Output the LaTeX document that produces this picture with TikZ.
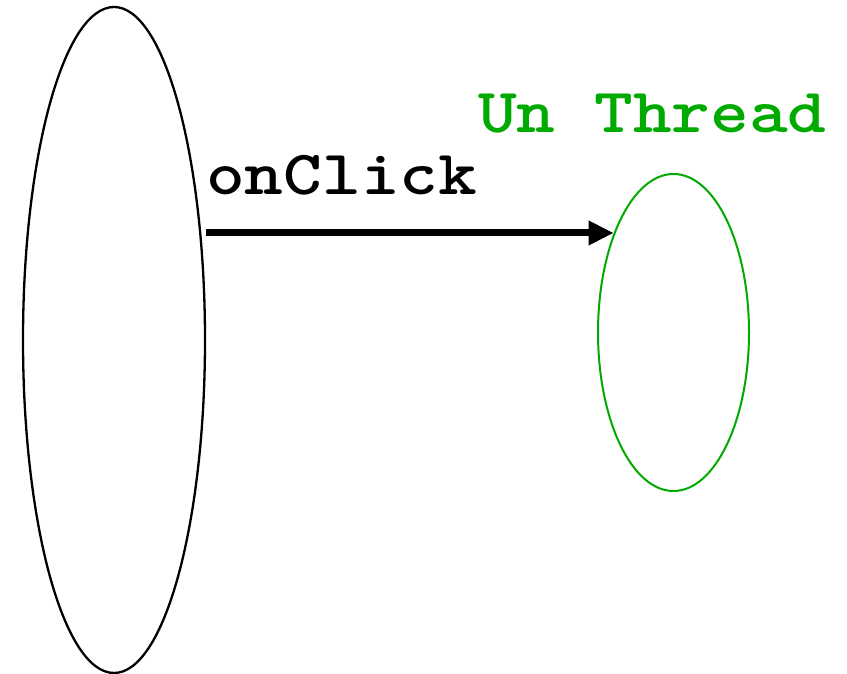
\documentclass[tikz,border=0pt]{standalone}
\usetikzlibrary{shapes.geometric,arrows.meta}
\definecolor{thgreen}{RGB}{0,170,0}
\tikzset{
  lbl/.style={font=\ttfamily\bfseries\fontsize{63}{63}\selectfont, inner sep=0pt, anchor=base west, xscale=1.17, transform shape},
  oval/.style={ellipse, draw, line width=2.3pt, inner sep=0pt},
  callarrow/.style={-{Triangle[length=25pt,width=23pt]}, line width=7pt}
}
\begin{document}
\begin{tikzpicture}[x=1pt,y=1pt]
\useasboundingbox (0,0) rectangle (847,674);
\node[oval, minimum width=182pt, minimum height=666pt] (ui) at (114,334) {};
\node[oval, draw=thgreen, line width=2pt, minimum width=151pt, minimum height=317pt] (th) at (673.5,341.5) {};
\draw[callarrow] (th.121.4 -| ui.east) -- (th.121.4);
\node[lbl] (onclick) at (206,479) {onClick};
\node[lbl, text=thgreen] (thread) at (478,541) {Un Thread};
\end{tikzpicture}
\end{document}
